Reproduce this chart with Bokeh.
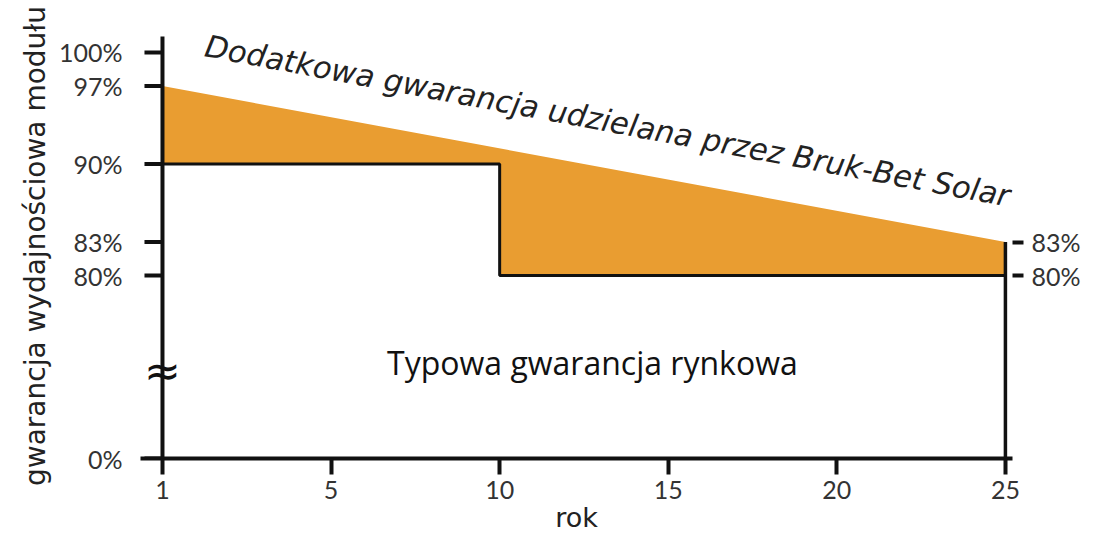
from bokeh.plotting import figure
from bokeh.models import FixedTicker, LinearAxis, Label, Range1d
from bokeh.embed import file_html
from bokeh.resources import INLINE

# ---- data ----
x_tick_positions = [0, 5, 10, 15, 20, 25]
x_tick_labels = ["1", "5", "10", "15", "20", "25"]

bb_years = [0, 25]          # extended warranty (Bruk-Bet Solar) line
bb_values = [97, 83]
typ_years = [0, 10, 10, 25]  # typical market warranty (step)
typ_values = [90, 90, 80, 80]

left_ticks_pct = [0, 80, 83, 90, 97, 100]
right_ticks_pct = [80, 83]

title_text = "Dodatkowa gwarancja udzielana przez Bruk-Bet Solar"
typ_text = "Typowa gwarancja rynkowa"
x_label = "rok"
y_label = "gwarancja wydajnościowa modułu"

# broken y-axis: values below 80% are compressed
ZERO_DISP = 63.6
BREAK_DISP = 71.5
AXIS_TOP = 101.43
Y_TOP = 101.70
X_LEFT = -0.652
X_RIGHT = 25.21
TICK_LEN = 0.534   # left tick length in x units (~18px)


def disp(v):
    return v if v >= 80 else ZERO_DISP + v / 80.0 * (80 - ZERO_DISP)


ORANGE = "#E99D31"
INK = "#111111"
LABEL = "#333333"
FONT = "Lato"
WIDE = "DejaVu Sans"

W, H = 1099, 542
p = figure(width=W, height=H, output_backend="svg", toolbar_location=None,
           x_range=Range1d(X_LEFT, X_RIGHT), y_range=Range1d(ZERO_DISP, Y_TOP),
           min_border_left=140, min_border_right=W - 1012, min_border_top=33,
           min_border_bottom=H - 458, x_axis_location=None, y_axis_location=None)
p.outline_line_color = None
p.grid.visible = False
p.background_fill_color = "white"
p.border_fill_color = "white"

# filled area between extended warranty and typical warranty
px = bb_years + typ_years[::-1]
py = [disp(v) for v in bb_values] + [disp(v) for v in typ_values[::-1]]
p.patch(px, py, fill_color=ORANGE, line_color=None)

# typical warranty step
p.line(typ_years, [disp(v) for v in typ_values], line_color=INK, line_width=3)
# right vertical boundary at year 25
p.line([bb_years[-1], bb_years[-1]], [disp(bb_values[-1]), disp(0)],
       line_color=INK, line_width=3.5)

# left axis line (at year 1) and its ticks
p.line([x_tick_positions[0], x_tick_positions[0]], [disp(0), AXIS_TOP],
       line_color=INK, line_width=4)
yt = [disp(v) for v in left_ticks_pct]
p.segment(x0=[x_tick_positions[0] - TICK_LEN] * len(yt), y0=yt,
          x1=[x_tick_positions[0]] * len(yt), y1=yt, line_color=INK, line_width=4)

# axis break symbol
p.text(x=[x_tick_positions[0]], y=[BREAK_DISP], text=["≈"], text_align="center",
       text_baseline="middle", text_font_size="44px", text_color=INK,
       text_font={"value": "DejaVu Sans"})

# ---- axes ----
xa = LinearAxis(ticker=FixedTicker(ticks=x_tick_positions),
                major_label_overrides={t: l for t, l in zip(x_tick_positions, x_tick_labels)})
xa.axis_line_width = 4
xa.axis_line_color = INK
xa.major_tick_line_width = 4
xa.major_tick_line_color = INK
xa.major_tick_in = 0
xa.major_tick_out = 16
xa.minor_tick_line_color = None
xa.major_label_text_font = FONT
xa.major_label_text_font_size = "25px"
xa.major_label_text_color = LABEL
xa.major_label_standoff = 6
xa.axis_label = x_label
xa.axis_label_text_font = WIDE
xa.axis_label_text_font_style = "normal"
xa.axis_label_text_font_size = "27px"
xa.axis_label_text_color = "#222222"
xa.axis_label_standoff = 0
p.add_layout(xa, "below")

ya = LinearAxis(ticker=FixedTicker(ticks=yt),
                major_label_overrides={disp(v): f"{v}%" for v in left_ticks_pct})
ya.axis_line_color = None
ya.major_tick_line_color = None
ya.major_tick_in = 0
ya.major_tick_out = 0
ya.minor_tick_line_color = None
ya.major_label_text_font = FONT
ya.major_label_text_font_size = "25px"
ya.major_label_text_color = LABEL
ya.major_label_standoff = 18
ya.axis_label = y_label
ya.axis_label_text_font = WIDE
ya.axis_label_text_font_style = "normal"
ya.axis_label_text_font_size = "28px"
ya.axis_label_text_color = "#222222"
ya.axis_label_standoff = 4
p.add_layout(ya, "left")

ra = LinearAxis(ticker=FixedTicker(ticks=[disp(v) for v in right_ticks_pct]),
                major_label_overrides={disp(v): f"{v}%" for v in right_ticks_pct})
ra.axis_line_color = None
ra.major_tick_line_width = 4
ra.major_tick_line_color = INK
ra.major_tick_in = 0
ra.major_tick_out = 11
ra.minor_tick_line_color = None
ra.major_label_text_font = FONT
ra.major_label_text_font_size = "25px"
ra.major_label_text_color = LABEL
ra.major_label_standoff = 8
p.add_layout(ra, "right")

# annotations
p.add_layout(Label(x=1.275, y=100.6, text=title_text, angle=-0.185,
                   text_align="left", text_baseline="alphabetic", text_font=WIDE,
                   text_font_style="italic", text_font_size="30.5px", text_color="#222222"))
p.add_layout(Label(x=12.75, y=72.2, text=typ_text, text_align="center",
                   text_baseline="middle", text_font="Open Sans",
                   text_font_size="32px", text_color=INK))

open("out.html", "w").write(file_html(p, INLINE))
